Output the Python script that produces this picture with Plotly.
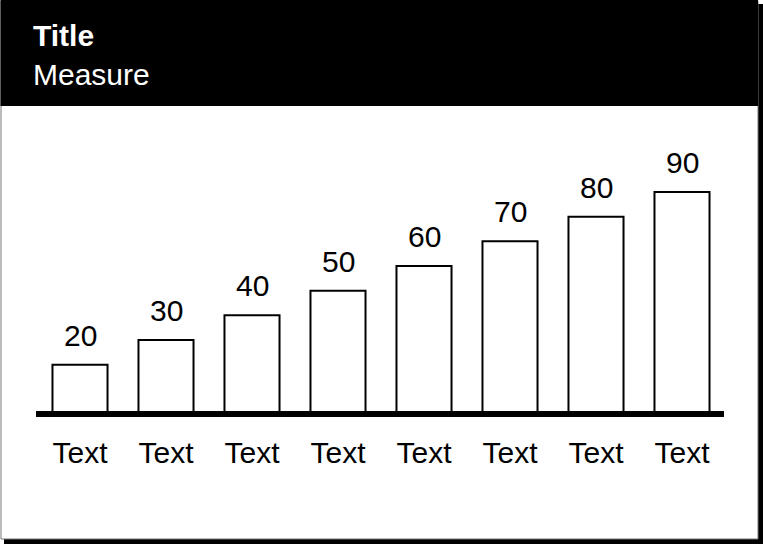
import plotly.graph_objects as go

# Data
categories = ["Text"] * 8
values = [20, 30, 40, 50, 60, 70, 80, 90]
title_text = "Title"
measure_text = "Measure"

FONT = "Liberation Sans, Arial, sans-serif"
W, H = 763, 544
# plot area in pixels
L, R, T, B = 37, 725, 130, 414


def px(x):
    return (x - L) / (R - L)


def py(y):
    return (B - y) / (B - T)


xs = list(range(len(values)))

fig = go.Figure()
fig.add_trace(go.Bar(
    x=xs, y=values,
    marker=dict(color="white", line=dict(color="black", width=2)),
    hoverinfo="skip",
))

# value labels above bars
for x, v in zip(xs, values):
    fig.add_annotation(x=x, y=v, text=str(v), showarrow=False,
                       yanchor="bottom", yshift=11,
                       font=dict(family=FONT, size=30, color="black"))

shapes = [
    # drop shadow
    dict(type="rect", xref="paper", yref="paper", x0=px(4), x1=px(763), y0=py(4), y1=py(544),
         fillcolor="black", line=dict(width=0), layer="below"),
    # card
    dict(type="rect", xref="paper", yref="paper", x0=px(1), x1=px(758), y0=py(1), y1=py(539),
         fillcolor="white", line=dict(color="#777777", width=1), layer="below"),
    # title band
    dict(type="rect", xref="paper", yref="paper", x0=px(0.5), x1=px(758), y0=py(0), y1=py(106),
         fillcolor="black", line=dict(width=0), layer="below"),
    # baseline
    dict(type="line", xref="paper", yref="paper", x0=px(36), x1=px(724), y0=py(414), y1=py(414),
         line=dict(color="black", width=6)),
]

fig.add_annotation(xref="paper", yref="paper", x=px(31), y=py(17),
                   xanchor="left", yanchor="top", align="left", showarrow=False,
                   text="<b>" + title_text + "</b><br>" + measure_text,
                   font=dict(family=FONT, size=30, color="white"))

fig.update_layout(
    width=W, height=H, autosize=False,
    margin=dict(l=L, r=W - R, t=T, b=H - B, pad=0),
    paper_bgcolor="white", plot_bgcolor="rgba(0,0,0,0)",
    showlegend=False, bargap=0.36,
    shapes=shapes,
    font=dict(family=FONT, color="black"),
)
fig.update_xaxes(range=[-0.5, 7.5], tickvals=xs, ticktext=categories,
                 showgrid=False, zeroline=False, showline=False, ticks="",
                 tickfont=dict(family=FONT, size=30, color="black"),
                 ticklabelstandoff=18)
fig.update_yaxes(range=[0, 90 * (B - T) / (B - 192)], visible=False,
                 showgrid=False, zeroline=False)

fig.write_html("out.html", config={"displayModeBar": False},
               post_script="document.body.style.margin='0';")
